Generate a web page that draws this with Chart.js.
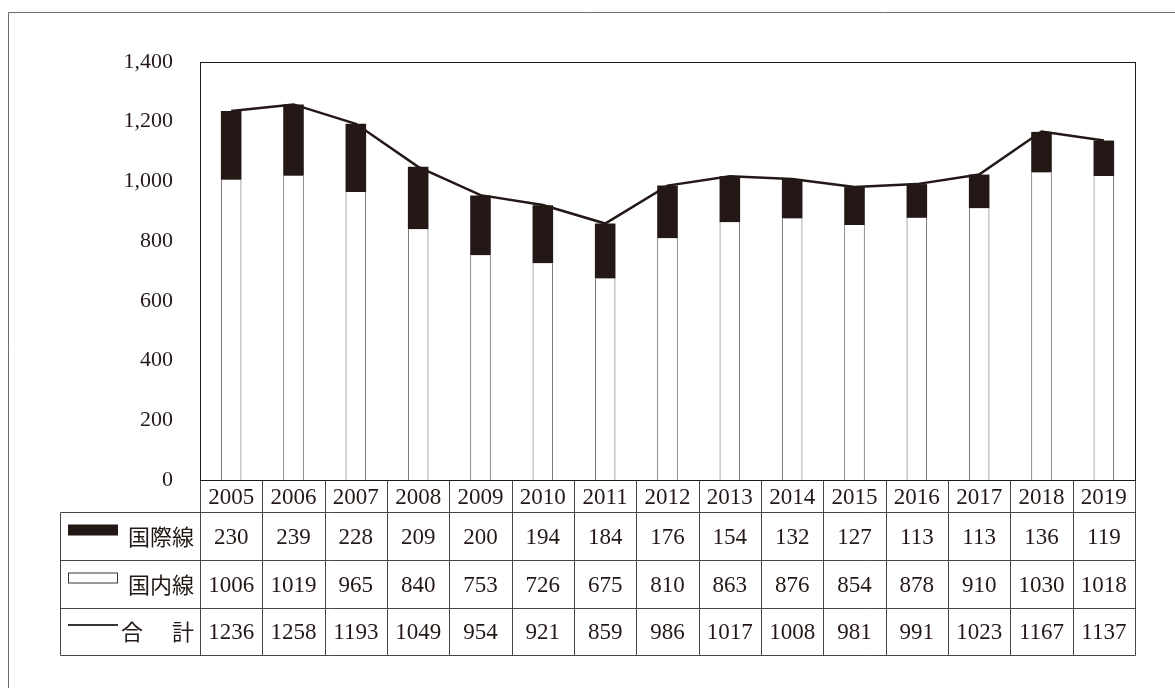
<!DOCTYPE html>
<html>
<head>
<meta charset="utf-8">
<script src="https://cdn.jsdelivr.net/npm/chart.js@4/dist/chart.umd.min.js"></script>
<style>
html,body{margin:0;padding:0;background:#fff;}
#wrap{width:1175px;height:688px;position:relative;}
</style>
</head>
<body>
<div id="wrap"><canvas id="c" width="1175" height="688"></canvas></div>
<script>
const years = ['2005','2006','2007','2008','2009','2010','2011','2012','2013','2014','2015','2016','2017','2018','2019'];
const international = [230,239,228,209,200,194,184,176,154,132,127,113,113,136,119];
const domestic = [1006,1019,965,840,753,726,675,810,863,876,854,878,910,1030,1018];
const total = [1236,1258,1193,1049,954,921,859,986,1017,1008,981,991,1023,1167,1137];
const rowLabels = ['国際線','国内線','合計'];
const yTicks = {min:0, max:1400, step:200};

const INK = '#231815';
const EDGE = '#5a5555';
const SERIF = '"Liberation Serif", "Times New Roman", serif';
const CJK = '"Noto Sans CJK JP", sans-serif';

const tablePlugin = {
  id: 'tablePlugin',
  beforeDraw(chart) {
    const ctx = chart.ctx;
    ctx.save();
    ctx.fillStyle = '#fff';
    ctx.fillRect(0, 0, chart.width, chart.height);
    ctx.strokeStyle = '#6e6a6a';
    ctx.lineWidth = 1;
    ctx.beginPath();
    ctx.moveTo(8.5, 688);
    ctx.lineTo(8.5, 12.5);
    ctx.lineTo(1175, 12.5);
    ctx.stroke();
    ctx.restore();
  },
  afterDraw(chart) {
    const ctx = chart.ctx;
    const ca = chart.chartArea;
    const xs = chart.scales.x;
    const n = years.length;
    const w = (ca.right - ca.left) / n;
    const left = Math.round(ca.left) + 0.5;
    const right = Math.round(ca.right) + 0.5;
    const top = Math.round(ca.top) + 0.5;
    const bottom = Math.round(ca.bottom) + 0.5;
    const rowY = [bottom, 512.5, 560.5, 608.5, 655.5];
    const tableLeft = 60.5;
    ctx.save();
    ctx.strokeStyle = INK;
    ctx.lineWidth = 1;
    ctx.strokeRect(left, top, right - left, bottom - top);
    ctx.strokeStyle = '#4a4545';
    ctx.beginPath();
    for (let r = 1; r < rowY.length; r++) {
      ctx.moveTo(tableLeft, rowY[r]);
      ctx.lineTo(right, rowY[r]);
    }
    ctx.moveTo(tableLeft, rowY[1]);
    ctx.lineTo(tableLeft, rowY[4]);
    for (let i = 0; i <= n; i++) {
      const x = Math.round(ca.left + i * w) + 0.5;
      ctx.moveTo(x, rowY[0]);
      ctx.lineTo(x, rowY[4]);
    }
    ctx.stroke();
    ctx.fillStyle = INK;
    ctx.textAlign = 'center';
    ctx.textBaseline = 'middle';
    ctx.font = '23px ' + SERIF;
    const rows = [years, international, domestic, total];
    for (let r = 0; r < rows.length; r++) {
      const cy = (rowY[r] + rowY[r + 1]) / 2 + 1;
      for (let i = 0; i < n; i++) {
        const cx = xs.getPixelForValue(i);
        ctx.fillText(String(rows[r][i]), cx, cy);
      }
    }
    const swL = 68, swW = 50;
    const cy1 = (rowY[1] + rowY[2]) / 2;
    const cy2 = (rowY[2] + rowY[3]) / 2;
    const cy3 = (rowY[3] + rowY[4]) / 2;
    ctx.fillStyle = INK;
    ctx.fillRect(swL, cy1 - 12, swW, 11);
    ctx.strokeStyle = '#3a3535';
    ctx.strokeRect(swL + 0.5, cy2 - 11.5, swW - 1, 10);
    ctx.lineWidth = 2;
    ctx.beginPath();
    ctx.moveTo(swL, cy3 - 7);
    ctx.lineTo(swL + swW, cy3 - 7);
    ctx.stroke();
    ctx.font = '22px ' + CJK;
    ctx.textAlign = 'right';
    ctx.fillStyle = INK;
    ctx.fillText(rowLabels[0], 194, cy1);
    ctx.fillText(rowLabels[1], 194, cy2);
    const t = rowLabels[2];
    ctx.textAlign = 'left';
    ctx.fillText(t[0], 121, cy3);
    ctx.textAlign = 'right';
    ctx.fillText(t[1], 194, cy3);
    ctx.restore();
  }
};

new Chart(document.getElementById('c'), {
  data: {
    labels: years,
    datasets: [
      {
        type: 'line',
        label: rowLabels[2],
        data: total,
        borderColor: INK,
        borderWidth: 2.5,
        pointRadius: 0,
        tension: 0,
        fill: false,
        stack: 'line',
        order: 0
      },
      {
        type: 'bar',
        label: rowLabels[1],
        data: domestic,
        backgroundColor: '#ffffff',
        borderColor: EDGE,
        borderWidth: {left: 1, right: 1, top: 0, bottom: 0},
        borderSkipped: false,
        stack: 'bars',
        barPercentage: 0.33,
        categoryPercentage: 1,
        order: 1
      },
      {
        type: 'bar',
        label: rowLabels[0],
        data: international,
        backgroundColor: INK,
        borderWidth: 0,
        stack: 'bars',
        barPercentage: 0.33,
        categoryPercentage: 1,
        order: 2
      }
    ]
  },
  options: {
    responsive: false,
    animation: false,
    devicePixelRatio: 1,
    layout: {padding: {left: 0, top: 62, right: 40, bottom: 208}},
    plugins: {legend: {display: false}, tooltip: {enabled: false}},
    scales: {
      x: {
        stacked: true,
        display: false,
        offset: true
      },
      y: {
        stacked: true,
        min: yTicks.min,
        max: yTicks.max,
        afterFit(s) { s.width = 200; },
        grid: {display: false, drawTicks: false},
        border: {display: false},
        ticks: {
          stepSize: yTicks.step,
          padding: 27,
          color: INK,
          font: {family: SERIF, size: 22}
        }
      }
    }
  },
  plugins: [tablePlugin]
});
</script>
</body>
</html>
